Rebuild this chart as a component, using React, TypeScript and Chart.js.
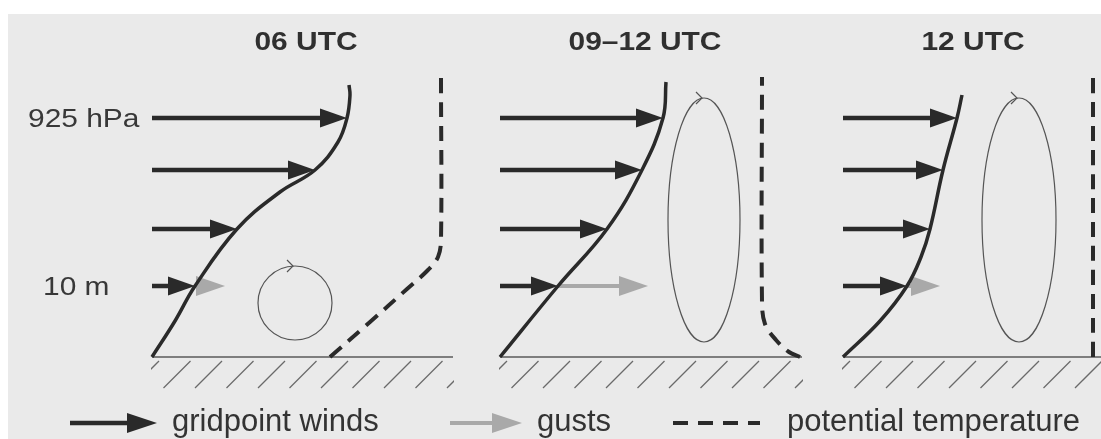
import React, { useEffect, useRef } from "react";
import { Chart, registerables } from "chart.js";

Chart.register(...registerables);

// ---------------- data (diagram units: x = wind speed / distance from panel base, y = height above ground)
const PANEL_TITLES = ["06 UTC", "09–12 UTC", "12 UTC"];
const LEVEL_NAMES = ["10 m", "", "", "925 hPa"];
const LEVEL_HEIGHTS = [71, 128, 187, 239];

const WIND_06 = [43, 85, 163, 195];
const WIND_0912 = [58, 107, 142, 163];
const WIND_12 = [64, 87, 100, 114];
const GUSTS = [73, 148, 97]; // gust at 10 m per panel

const PROFILE_06_SPEED = [0, 23, 43, 85, 128, 163, 186, 195, 198, 197];
const PROFILE_06_HEIGHT = [0, 36, 71, 128, 165, 187, 215, 239, 262, 272];
const PROFILE_0912_SPEED = [0, 58, 107, 142, 163, 166];
const PROFILE_0912_HEIGHT = [0, 71, 128, 187, 239, 275];
const PROFILE_12_SPEED = [0, 37, 64, 78, 87, 100, 114, 119];
const PROFILE_12_HEIGHT = [0, 36, 71, 100, 128, 187, 239, 262];

const THETA_06_X = [178, 218, 255, 276, 286, 289, 289];
const THETA_06_H = [0, 35, 68, 87, 100, 117, 280];
const THETA_0912_X = [300, 289, 276, 265, 262, 262];
const THETA_0912_H = [0, 5, 17, 33, 55, 280];
const THETA_12_X = [250, 250];
const THETA_12_H = [0, 280];

const EDDY_CX = [143, 204, 176];
const EDDY_CY = [54, 137, 137];
const EDDY_RX = [37, 36, 37];
const EDDY_RY = [37, 122, 122];

const LEGEND_LABELS = ["gridpoint winds", "gusts", "potential temperature"];

// ---------------- layout & style
const W = 1101;
const H = 439;
const PANEL_X0 = [152, 500, 843];
const GROUND_LEN = [301, 302, 270];
const DARK = "#2a2a2a";
const GUST_GRAY = "#a9a9a9";
const BG = "#eaeaea";

const winds = [WIND_06, WIND_0912, WIND_12];
const profiles = [
  [PROFILE_06_SPEED, PROFILE_06_HEIGHT],
  [PROFILE_0912_SPEED, PROFILE_0912_HEIGHT],
  [PROFILE_12_SPEED, PROFILE_12_HEIGHT],
];
const thetas = [
  [THETA_06_X, THETA_06_H],
  [THETA_0912_X, THETA_0912_H],
  [THETA_12_X, THETA_12_H],
];

function buildDatasets() {
  const ds: any[] = [];
  // wind profiles
  profiles.forEach(([sx, hy], p) => {
    ds.push({
      data: sx.map((s, i) => ({ x: PANEL_X0[p] + s, y: hy[i] })),
      borderColor: DARK,
      borderWidth: 3.5,
      tension: 0.4,
      pointRadius: 0,
      fill: false,
    });
  });
  // potential temperature (dashed)
  thetas.forEach(([tx, th], p) => {
    ds.push({
      data: tx.map((s, i) => ({ x: PANEL_X0[p] + s, y: th[i] })),
      borderColor: DARK,
      borderWidth: 4,
      borderDash: [15, 9],
      tension: 0.35,
      pointRadius: 0,
      fill: false,
    });
  });
  // gridpoint wind arrows
  winds.forEach((w, p) => {
    w.forEach((len, i) => {
      ds.push({
        data: [
          { x: PANEL_X0[p], y: LEVEL_HEIGHTS[i] },
          { x: PANEL_X0[p] + len, y: LEVEL_HEIGHTS[i] },
        ],
        borderColor: DARK,
        borderWidth: 4.5,
        pointRadius: 0,
        tension: 0,
        arrow: { color: DARK, len: 27, half: 9.5 },
      });
    });
  });
  // gust arrows (10 m)
  GUSTS.forEach((g, p) => {
    ds.push({
      data: [
        { x: PANEL_X0[p] + winds[p][0], y: LEVEL_HEIGHTS[0] },
        { x: PANEL_X0[p] + g, y: LEVEL_HEIGHTS[0] },
      ],
      borderColor: GUST_GRAY,
      borderWidth: 4,
      pointRadius: 0,
      tension: 0,
      arrow: { color: GUST_GRAY, len: 29, half: 10 },
      order: 1,
    });
  });
  return ds;
}

function drawArrow(ctx: CanvasRenderingContext2D, x0: number, y0: number, x1: number, y1: number, color: string, len: number, half: number, shaft: number) {
  const a = Math.atan2(y1 - y0, x1 - x0);
  const bx = x1 - Math.cos(a) * len;
  const by = y1 - Math.sin(a) * len;
  if (shaft > 0) {
    ctx.strokeStyle = color;
    ctx.lineWidth = shaft;
    ctx.beginPath();
    ctx.moveTo(x0, y0);
    ctx.lineTo(bx + Math.cos(a) * 4, by + Math.sin(a) * 4);
    ctx.stroke();
  }
  ctx.fillStyle = color;
  ctx.beginPath();
  ctx.moveTo(x1, y1);
  ctx.lineTo(bx - Math.sin(a) * half, by + Math.cos(a) * half);
  ctx.lineTo(bx + Math.sin(a) * half, by - Math.cos(a) * half);
  ctx.closePath();
  ctx.fill();
}

function stretchedText(ctx: CanvasRenderingContext2D, text: string, x: number, y: number, sx: number, align: "left" | "center") {
  ctx.save();
  ctx.translate(x, y);
  ctx.scale(sx, 1);
  ctx.textAlign = align;
  ctx.fillText(text, 0, 0);
  ctx.restore();
}

const diagramPlugin = {
  id: "diagram",
  beforeDraw(chart: any) {
    const ctx = chart.ctx as CanvasRenderingContext2D;
    ctx.save();
    ctx.fillStyle = "#ffffff";
    ctx.fillRect(0, 0, W, H);
    ctx.fillStyle = BG;
    ctx.fillRect(8, 14, W - 8, H - 14);
    ctx.restore();
  },
  beforeDatasetsDraw(chart: any) {
    const ctx = chart.ctx as CanvasRenderingContext2D;
    const xs = chart.scales.x;
    const ys = chart.scales.y;
    const gy = ys.getPixelForValue(0);
    ctx.save();
    // ground + hatching
    PANEL_X0.forEach((x0, p) => {
      const xa = xs.getPixelForValue(x0);
      const xb = xs.getPixelForValue(x0 + GROUND_LEN[p]);
      ctx.strokeStyle = "#5a5a5a";
      ctx.lineWidth = 1.6;
      ctx.beginPath();
      ctx.moveTo(xa, gy);
      ctx.lineTo(xb, gy);
      ctx.stroke();
      ctx.save();
      ctx.beginPath();
      ctx.rect(xa - 1, gy + 1, xb - xa + 2, 40);
      ctx.clip();
      ctx.strokeStyle = "#6a6a6a";
      ctx.lineWidth = 1.3;
      for (let hx = xa + 7; hx < xb + 28; hx += 31.5) {
        ctx.beginPath();
        ctx.moveTo(hx, gy + 4);
        ctx.lineTo(hx - 27, gy + 31);
        ctx.stroke();
      }
      ctx.restore();
    });
    // eddies
    EDDY_CX.forEach((cx, p) => {
      const px = xs.getPixelForValue(PANEL_X0[p] + cx);
      const py = ys.getPixelForValue(EDDY_CY[p]);
      const rx = xs.getPixelForValue(PANEL_X0[p] + cx + EDDY_RX[p]) - px;
      const ry = ys.getPixelForValue(EDDY_CY[p]) - ys.getPixelForValue(EDDY_CY[p] + EDDY_RY[p]);
      ctx.strokeStyle = "#555";
      ctx.lineWidth = 1.2;
      ctx.beginPath();
      ctx.ellipse(px, py, rx, ry, 0, 0, Math.PI * 2);
      ctx.stroke();
      const top = py - ry;
      ctx.beginPath();
      ctx.moveTo(px - 8, top - 6);
      ctx.lineTo(px - 2, top);
      ctx.lineTo(px - 8, top + 6);
      ctx.stroke();
    });
    ctx.restore();
  },
  beforeDatasetDraw(chart: any, args: any) {
    const ds = chart.data.datasets[args.index];
    if (ds.arrow) {
      const pts = args.meta.data;
      const tip = pts[pts.length - 1];
      const ctx = chart.ctx as CanvasRenderingContext2D;
      ctx.save();
      ctx.beginPath();
      ctx.rect(0, 0, tip.x - ds.arrow.len + 4, H);
      ctx.clip();
    }
  },
  afterDatasetDraw(chart: any, args: any) {
    const ds = chart.data.datasets[args.index];
    if (ds.arrow) {
      const ctx = chart.ctx as CanvasRenderingContext2D;
      ctx.restore();
      const pts = args.meta.data;
      const a = pts[0];
      const b = pts[pts.length - 1];
      ctx.save();
      drawArrow(ctx, a.x, a.y, b.x, b.y, ds.arrow.color, ds.arrow.len, ds.arrow.half, 0);
      ctx.restore();
    }
  },
  afterDraw(chart: any) {
    const ctx = chart.ctx as CanvasRenderingContext2D;
    const ys = chart.scales.y;
    ctx.save();
    ctx.textBaseline = "alphabetic";
    // titles
    ctx.fillStyle = "#303030";
    ctx.font = 'bold 26px "Liberation Sans", Arial, sans-serif';
    const titleCx = [306, 645, 973];
    PANEL_TITLES.forEach((t, i) => stretchedText(ctx, t, titleCx[i], 50, 1.15, "center"));
    // level labels
    ctx.fillStyle = "#383838";
    ctx.font = '26px "Liberation Sans", Arial, sans-serif';
    const labelX = [43, 0, 0, 28];
    LEVEL_NAMES.forEach((name, i) => {
      if (!name) return;
      const y = ys.getPixelForValue(LEVEL_HEIGHTS[i]) + 9;
      stretchedText(ctx, name, labelX[i], y, 1.15, "left");
    });
    // legend
    const ly = 423;
    drawArrow(ctx, 70, ly, 157, ly, DARK, 30, 10, 4.5);
    drawArrow(ctx, 450, ly, 522, ly, GUST_GRAY, 30, 10, 4);
    ctx.strokeStyle = DARK;
    ctx.lineWidth = 4;
    ctx.setLineDash([15, 10]);
    ctx.beginPath();
    ctx.moveTo(673, ly);
    ctx.lineTo(760, ly);
    ctx.stroke();
    ctx.setLineDash([]);
    ctx.fillStyle = "#333";
    ctx.font = '31px "Liberation Sans", Arial, sans-serif';
    ctx.textAlign = "left";
    const legendX = [172, 537, 787];
    LEGEND_LABELS.forEach((t, i) => ctx.fillText(t, legendX[i], 431));
    ctx.restore();
  },
};

export default function App() {
  const ref = useRef<HTMLCanvasElement | null>(null);
  useEffect(() => {
    document.body.style.margin = "0";
    const canvas = ref.current;
    if (!canvas) return;
    const chart = new Chart(canvas, {
      type: "line",
      data: { datasets: buildDatasets() },
      options: {
        animation: false,
        responsive: false,
        maintainAspectRatio: false,
        devicePixelRatio: 1,
        events: [],
        layout: { padding: 0 },
        scales: {
          x: { type: "linear", min: 0, max: W, display: false },
          y: { type: "linear", min: -82, max: 357, display: false },
        },
        plugins: {
          legend: { display: false },
          tooltip: { enabled: false },
          title: { display: false },
        },
        elements: { line: { capBezierPoints: false } },
      } as any,
      plugins: [diagramPlugin as any],
    });
    return () => chart.destroy();
  }, []);
  return (
    <canvas ref={ref} width={W} height={H} style={{ display: "block", width: W, height: H }} />
  );
}
